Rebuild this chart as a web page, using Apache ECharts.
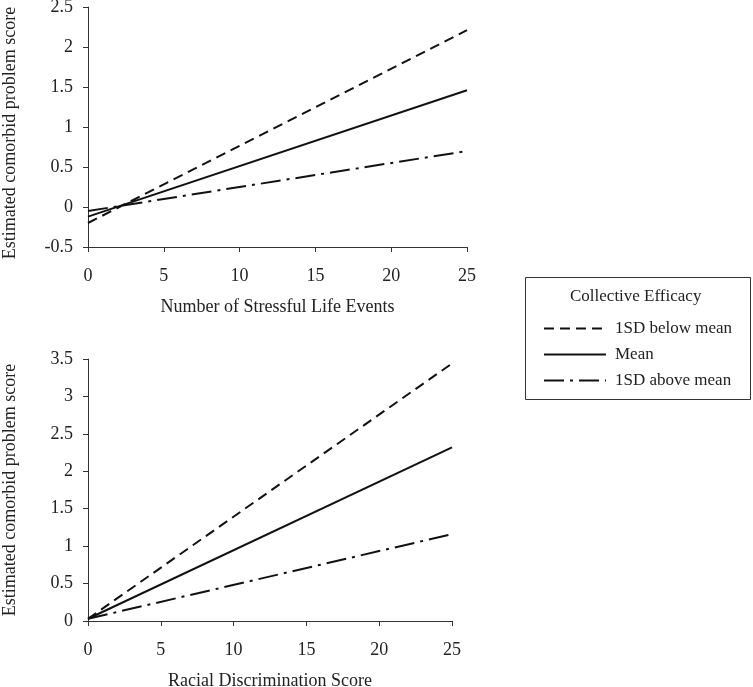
<!DOCTYPE html>
<html>
<head>
<meta charset="utf-8">
<script src="https://cdn.jsdelivr.net/npm/echarts@6/dist/echarts.min.js"></script>
<style>
html,body{margin:0;padding:0;background:#fff;}
#chart{width:753px;height:687px;}
</style>
</head>
<body>
<div id="chart"></div>
<script>
// Data
const xValues = [0, 25];
const seriesNames = ['1SD below mean', 'Mean', '1SD above mean'];
const topBelow = [-0.2, 2.21];
const topMean = [-0.12, 1.46];
const topAbove = [-0.05, 0.70];
const bottomBelow = [0.03, 3.44];
const bottomMean = [0.03, 2.32];
const bottomAbove = [0.03, 1.16];
const topXTitle = 'Number of Stressful Life Events';
const bottomXTitle = 'Racial Discrimination Score';
const yTitle = 'Estimated comorbid problem score';
const legendTitle = 'Collective Efficacy';

const font = 'Liberation Serif, Times New Roman, serif';
const ink = '#111';
const lineTypes = [[10, 6], 'solid', [20, 6, 3, 6]];

function pairs(vals) { return xValues.map((x, i) => [x, vals[i]]); }

function mkSeries(name, data, gi, idx) {
  return {
    name: name, type: 'line', xAxisIndex: gi, yAxisIndex: gi,
    data: pairs(data), showSymbol: false, symbol: 'none', silent: true,
    lineStyle: { color: ink, width: 2, type: lineTypes[idx] },
    itemStyle: { color: ink }
  };
}

const axisCommon = {
  axisLine: { show: true, onZero: false, lineStyle: { color: '#333', width: 1 } },
  axisTick: { show: true, length: 5, lineStyle: { color: '#333' } },
  axisLabel: { color: '#222', fontFamily: font, fontSize: 18 },
  splitLine: { show: false },
  nameTextStyle: { color: '#222', fontFamily: font, fontSize: 18 }
};

function xAx(gi, name) {
  return Object.assign({}, axisCommon, { type: 'value', gridIndex: gi, min: 0, max: 25, interval: 5,
    name: name, nameLocation: 'middle', nameGap: 51,
    axisLabel: Object.assign({}, axisCommon.axisLabel, { margin: 20 }) });
}
function yAx(gi, min, max, pad) {
  return Object.assign({}, axisCommon, { type: 'value', gridIndex: gi, min: min, max: max, interval: 0.5,
    name: yTitle, nameLocation: 'middle', nameGap: 69, nameRotate: 90,
    nameTextStyle: Object.assign({}, axisCommon.nameTextStyle, { padding: pad }),
    axisLabel: Object.assign({}, axisCommon.axisLabel, { margin: 15 }) });
}

const chart = echarts.init(document.getElementById('chart'), null, { renderer: 'canvas' });
chart.setOption({
  backgroundColor: '#fff',
  animation: false,
  grid: [
    { left: 88, top: 7, width: 379, height: 240, outerBoundsMode: 'none', containLabel: false },
    { left: 88, top: 359, width: 364, height: 262, outerBoundsMode: 'none', containLabel: false }
  ],
  xAxis: [ xAx(0, topXTitle), xAx(1, bottomXTitle) ],
  yAxis: [ yAx(0, -0.5, 2.5, [0, 12, 0, 0]), yAx(1, 0, 3.5, 0) ],
  legend: {
    data: seriesNames, orient: 'vertical', left: 538, top: 315,
    itemWidth: 62, itemHeight: 14, itemGap: 9,
    itemStyle: { opacity: 0 },
    textStyle: { color: '#222', fontFamily: font, fontSize: 17, padding: [0, 0, 0, 4] },
    selectedMode: false
  },
  graphic: [
    { type: 'rect', shape: { x: 525.5, y: 277.5, width: 225, height: 122 },
      style: { fill: 'none', stroke: '#333', lineWidth: 1 }, silent: true },
    { type: 'text', left: 570, top: 288,
      style: { text: legendTitle, fill: '#222', font: '17px ' + font } }
  ],
  series: [
    mkSeries(seriesNames[0], topBelow, 0, 0),
    mkSeries(seriesNames[1], topMean, 0, 1),
    mkSeries(seriesNames[2], topAbove, 0, 2),
    mkSeries(seriesNames[0], bottomBelow, 1, 0),
    mkSeries(seriesNames[1], bottomMean, 1, 1),
    mkSeries(seriesNames[2], bottomAbove, 1, 2)
  ]
});
</script>
</body>
</html>
